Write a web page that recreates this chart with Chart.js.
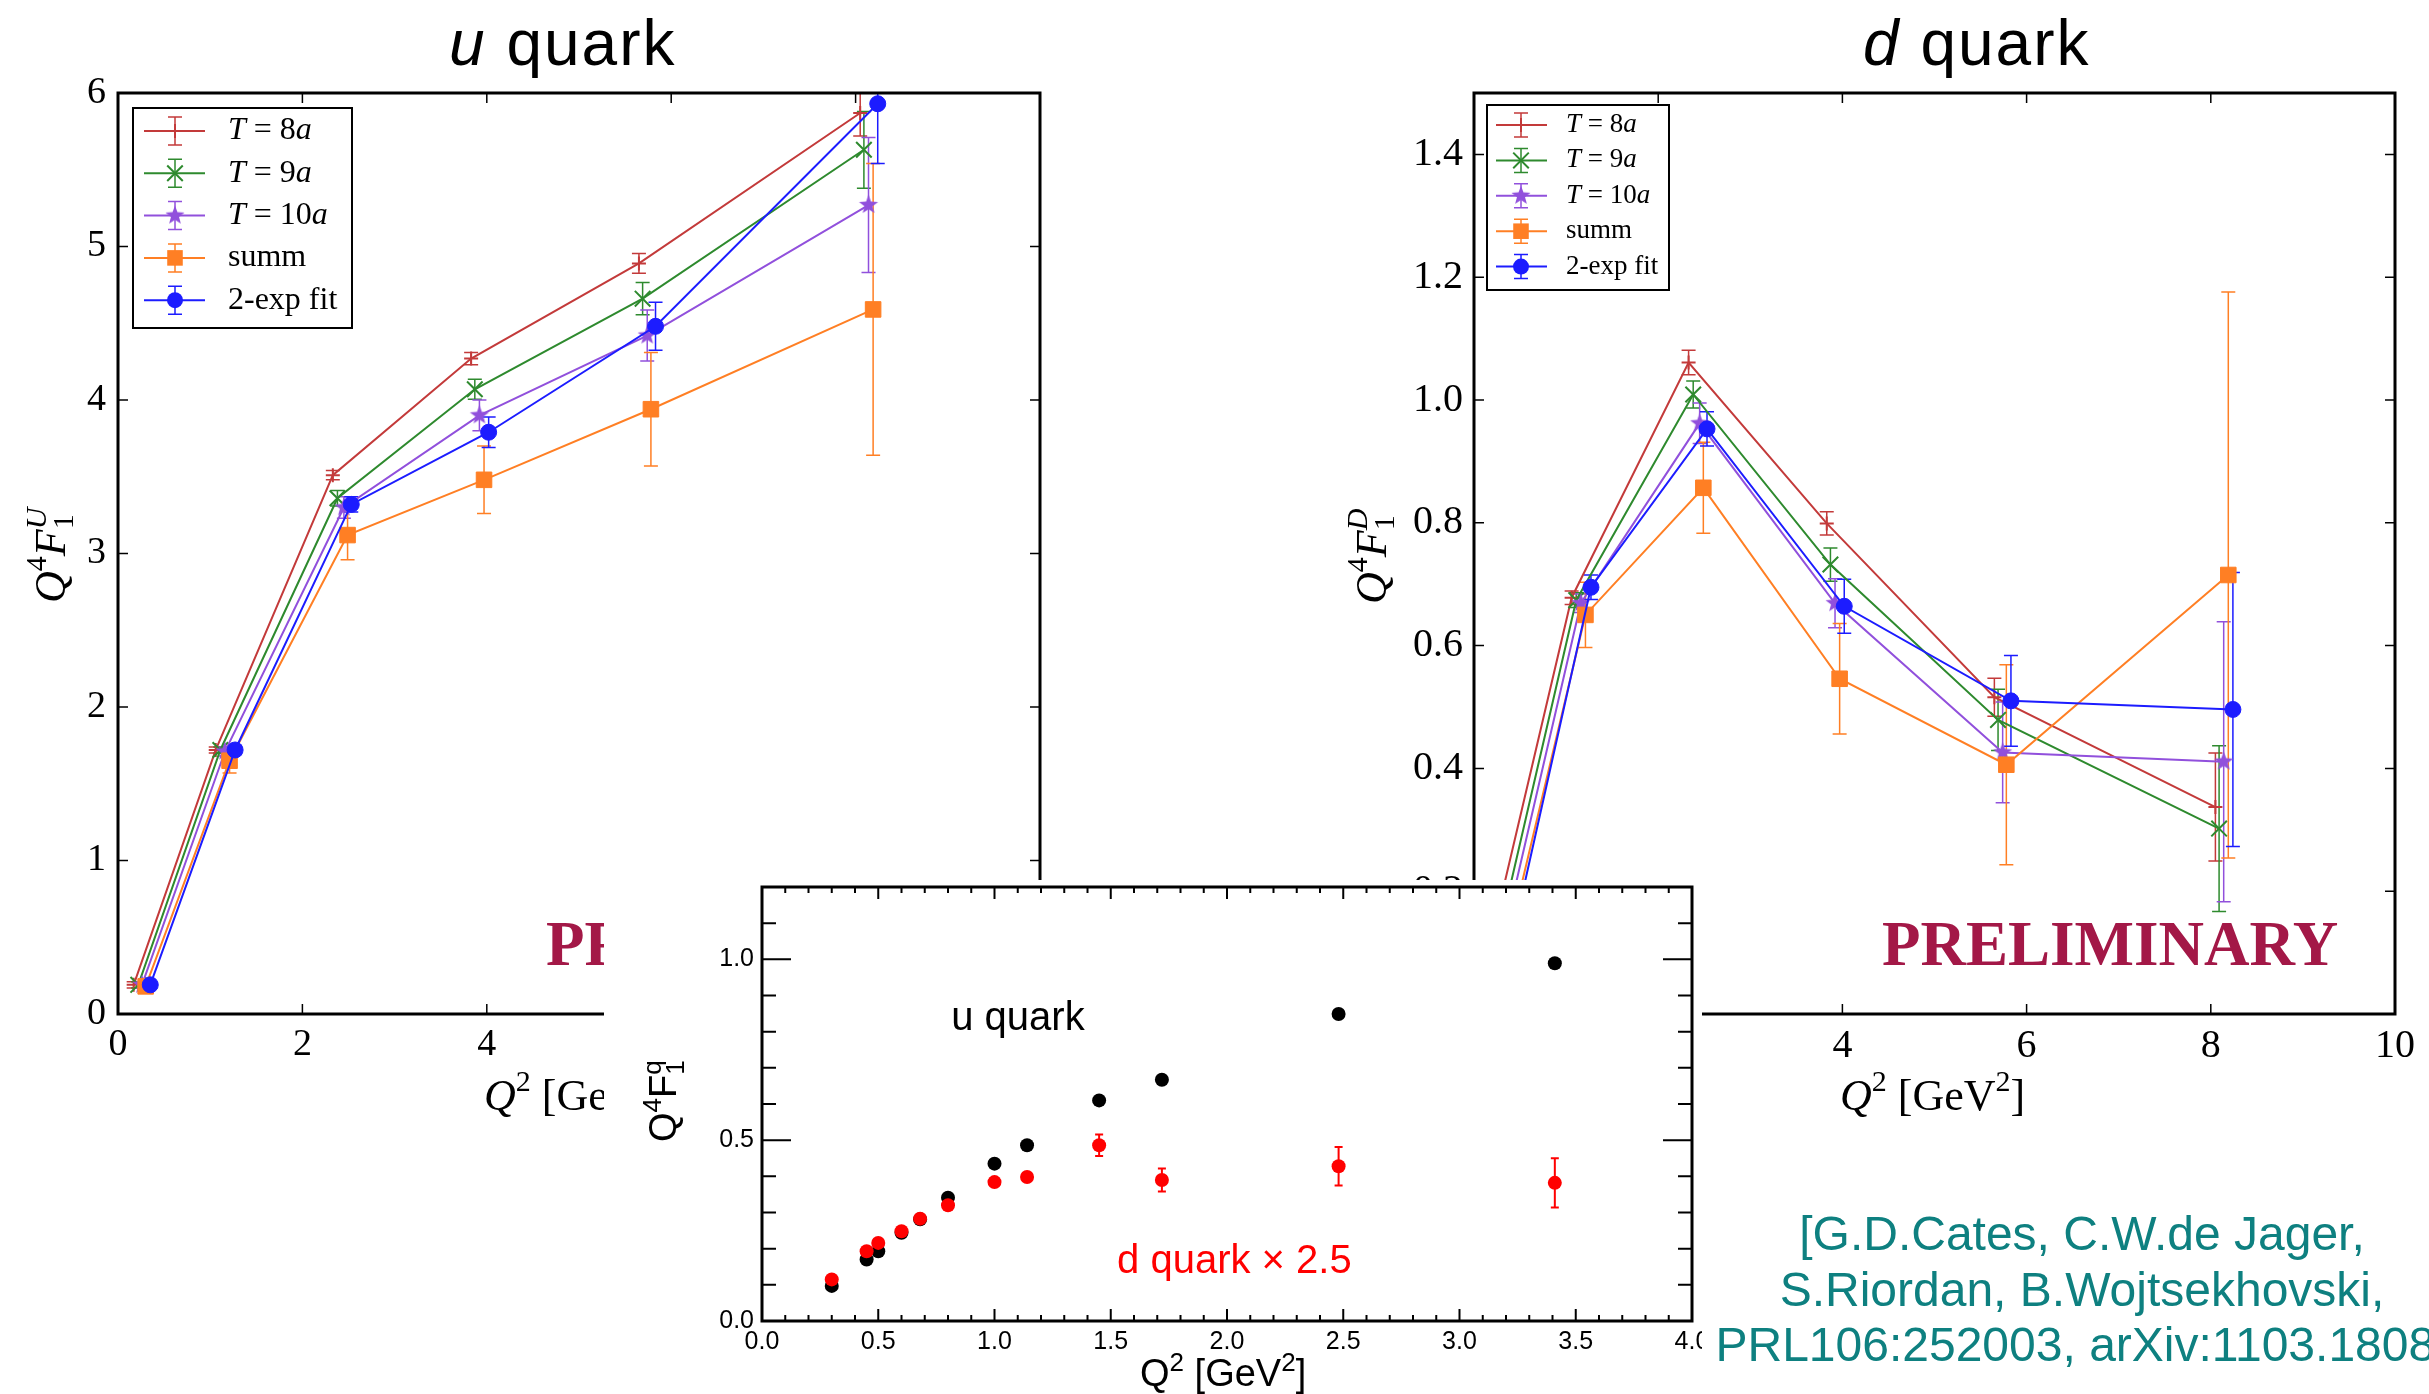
<!DOCTYPE html>
<html>
<head>
<meta charset="utf-8">
<title>Q4 F1 for u and d quarks</title>
<script src="https://cdn.jsdelivr.net/npm/chart.js@4.4.1/dist/chart.umd.min.js"></script>
<style>
  body { margin:0; width:2429px; height:1394px; overflow:hidden; background:#fff; position:relative; }
  canvas { position:absolute; }
  .title { position:absolute; top:11px; font:64px/64px 'Liberation Sans', Arial, sans-serif; letter-spacing:2px; white-space:nowrap; color:#000; }
  #cite { position:absolute; left:1682px; top:1206px; width:800px; text-align:center; font:48px/55.5px 'Liberation Sans', Arial, sans-serif; color:#0e8080; white-space:nowrap; }
</style>
</head>
<body>
<div class="title" style="left:449px"><i>u</i> quark</div>
<div class="title" style="left:1863px"><i>d</i> quark</div>
<canvas id="uChart" width="1120" height="1150" style="left:0;top:0"></canvas>
<canvas id="dChart" width="1099" height="1150" style="left:1330px;top:0"></canvas>
<canvas id="inset" width="1098" height="514" style="left:604px;top:880px;background:#fff"></canvas>
<div id="cite">[G.D.Cates, C.W.de Jager,<br>S.Riordan, B.Wojtsekhovski,<br>PRL106:252003, arXiv:1103.1808]</div>
<script>
// Q^2 [GeV^2] of each series (shifted a little per series, as in the plot)
var q2T8   = [0.17, 1.06, 2.33, 3.83, 5.65, 8.05];
var q2T9   = [0.22, 1.11, 2.38, 3.87, 5.69, 8.09];
var q2T10  = [0.26, 1.16, 2.45, 3.92, 5.74, 8.14];
var q2Summ = [0.30, 1.21, 2.49, 3.97, 5.78, 8.19];
var q2Fit  = [0.35, 1.27, 2.53, 4.02, 5.83, 8.24];

// u quark, Q^4 F1^U
var uT8      = [0.19, 1.72, 3.51, 4.27, 4.89, 5.87];
var uT8Err   = [0.02, 0.02, 0.03, 0.04, 0.065, 0.15];
var uT9      = [0.19, 1.72, 3.36, 4.07, 4.66, 5.63];
var uT9Err   = [0.02, 0.02, 0.05, 0.065, 0.105, 0.25];
var uT10     = [0.19, 1.71, 3.30, 3.90, 4.42, 5.27];
var uT10Err  = [0.02, 0.03, 0.07, 0.10, 0.166, 0.44];
var uSumm    = [0.18, 1.65, 3.12, 3.48, 3.94, 4.59];
var uSummErr = [0.03, 0.08, 0.16, 0.22, 0.37, 0.95];
var uFit     = [0.19, 1.72, 3.32, 3.79, 4.48, 5.93];
var uFitErr  = [0.02, 0.03, 0.05, 0.10, 0.156, 0.39];

// d quark, Q^4 F1^D
var dT8      = [0.11, 0.678, 1.061, 0.799, 0.516, 0.337];
var dT8Err   = [0.01, 0.011, 0.020, 0.019, 0.031, 0.088];
var dT9      = [0.096, 0.674, 1.009, 0.732, 0.479, 0.302];
var dT9Err   = [0.01, 0.012, 0.022, 0.027, 0.050, 0.135];
var dT10     = [0.086, 0.669, 0.962, 0.669, 0.426, 0.411];
var dT10Err  = [0.01, 0.015, 0.033, 0.040, 0.082, 0.228];
var dSumm    = [0.074, 0.650, 0.857, 0.546, 0.406, 0.715];
var dSummErr = [0.02, 0.053, 0.074, 0.090, 0.163, 0.461];
var dFit     = [0.079, 0.695, 0.953, 0.664, 0.510, 0.496];
var dFitErr  = [0.01, 0.020, 0.028, 0.044, 0.074, 0.223];

// inset: experimental flavour separation
var insetQ2     = [0.30, 0.45, 0.50, 0.60, 0.68, 0.80, 1.00, 1.14, 1.45, 1.72, 2.48, 3.41];
var insetU      = [0.097, 0.170, 0.193, 0.244, 0.281, 0.341, 0.435, 0.486, 0.610, 0.667, 0.849, 0.989];
var insetD25    = [0.115, 0.193, 0.216, 0.248, 0.283, 0.320, 0.384, 0.398, 0.486, 0.390, 0.428, 0.382];
var insetD25Err = [0, 0, 0, 0, 0, 0, 0, 0, 0.030, 0.032, 0.053, 0.068];

// tick labels
var q2Ticks     = [0, 2, 4, 6, 8, 10];
var uYTicks     = [0, 1, 2, 3, 4, 5, 6];
var dYTicks     = [0, 0.2, 0.4, 0.6, 0.8, 1.0, 1.2, 1.4];
var insetXTicks = [0, 0.5, 1.0, 1.5, 2.0, 2.5, 3.0, 3.5, 4.0];
var insetYTicks = [0, 0.5, 1.0];

var SERIF = "'Liberation Serif', 'Times New Roman', serif";
var SANS = "'Liberation Sans', Arial, sans-serif";
Chart.defaults.font.family = SERIF;
Chart.defaults.color = '#000';

var it = function(s){ return 'italic ' + s + 'px ' + SERIF; };
var rm = function(s){ return s + 'px ' + SERIF; };
var sf = function(s){ return s + 'px ' + SANS; };

function starMarker(color, r) {
  var c = document.createElement('canvas');
  var s = Math.ceil(r * 2 + 2);
  c.width = c.height = s;
  var g = c.getContext('2d');
  g.fillStyle = color;
  g.beginPath();
  for (var i = 0; i < 10; i++) {
    var a = -Math.PI / 2 + i * Math.PI / 5;
    var rr = i % 2 ? r * 0.42 : r;
    g.lineTo(s / 2 + rr * Math.cos(a), s / 2 + rr * Math.sin(a));
  }
  g.closePath();
  g.fill();
  return c;
}

var styles = {
  t8:   { color: '#c33a3a', marker: 'cross',    radius: 7 },
  t9:   { color: '#2e8a2e', marker: 'crossRot', radius: 11 },
  t10:  { color: '#9150dc', marker: starMarker('#9150dc', 10), radius: 9 },
  summ: { color: '#ff7f24', marker: 'rect',     radius: 11 },
  fit:  { color: '#1c1cff', marker: 'circle',   radius: 8 }
};

function pts(xs, ys) { return xs.map(function(x, i){ return { x: x, y: ys[i] }; }); }

function series(label, xs, ys, errs, st, order) {
  return {
    label: label, order: order,
    data: pts(xs, ys), errs: errs,
    borderColor: st.color, backgroundColor: st.color, borderWidth: 2,
    pointStyle: st.marker, pointRadius: st.radius, pointHoverRadius: st.radius,
    pointBorderWidth: (st.marker === 'cross' || st.marker === 'crossRot') ? 2 : 1,
    pointBackgroundColor: st.color, pointBorderColor: st.color,
    tension: 0, fill: false
  };
}

function steps(min, max, step) {
  var out = [], n = Math.round((max - min) / step);
  for (var k = 0; k <= n; k++) out.push(min + k * step);
  return out;
}

function drawRuns(ctx, runs, x, y) {
  var cx = x, lastX = x, lastW = 0;
  runs.forEach(function(r){
    ctx.font = r[1];
    var w = ctx.measureText(r[0]).width;
    var px = r[3] ? lastX : cx;
    ctx.fillText(r[0], px, y + r[2]);
    if (r[3]) cx = lastX + Math.max(lastW, w);
    else { lastX = px; lastW = w; cx = px + w; }
  });
}

function drawMarker(ctx, ds, x, y) {
  var s = ds.pointStyle, r = ds.pointRadius;
  ctx.save();
  ctx.fillStyle = ds.backgroundColor; ctx.strokeStyle = ds.borderColor; ctx.lineWidth = 2;
  ctx.beginPath();
  if (s === 'cross') { ctx.moveTo(x - r, y); ctx.lineTo(x + r, y); ctx.moveTo(x, y - r); ctx.lineTo(x, y + r); ctx.stroke(); }
  else if (s === 'crossRot') { var d = r * Math.SQRT1_2; ctx.moveTo(x - d, y - d); ctx.lineTo(x + d, y + d); ctx.moveTo(x - d, y + d); ctx.lineTo(x + d, y - d); ctx.stroke(); }
  else if (s === 'rect') { var h = r * Math.SQRT1_2; ctx.fillRect(x - h, y - h, 2 * h, 2 * h); }
  else if (s === 'circle') { ctx.arc(x, y, r, 0, Math.PI * 2); ctx.fill(); }
  else if (s && s.width) { ctx.drawImage(s, x - s.width / 2, y - s.height / 2); }
  ctx.restore();
}

function errorBars(o) {
  return {
    id: 'errorBars',
    beforeDatasetsDraw: function(chart) {
      var ctx = chart.ctx, a = chart.chartArea, xs = chart.scales.x, ys = chart.scales.y;
      ctx.save();
      ctx.beginPath(); ctx.rect(a.left, a.top, a.right - a.left, a.bottom - a.top); ctx.clip();
      chart.data.datasets.forEach(function(ds){
        if (!ds.errs) return;
        ctx.strokeStyle = ds.borderColor; ctx.lineWidth = o.width;
        ds.data.forEach(function(p, i){
          var e = ds.errs[i];
          if (!e) return;
          var px = xs.getPixelForValue(p.x), y1 = ys.getPixelForValue(p.y - e), y2 = ys.getPixelForValue(p.y + e);
          ctx.beginPath();
          ctx.moveTo(px, y1); ctx.lineTo(px, y2);
          ctx.moveTo(px - o.cap, y1); ctx.lineTo(px + o.cap, y1);
          ctx.moveTo(px - o.cap, y2); ctx.lineTo(px + o.cap, y2);
          ctx.stroke();
        });
      });
      ctx.restore();
    }
  };
}

function framePlugin(o) {
  return {
    id: 'frame',
    afterDraw: function(chart) {
      var ctx = chart.ctx, a = chart.chartArea, x = chart.scales.x, y = chart.scales.y;
      ctx.save();
      ctx.strokeStyle = '#000'; ctx.lineWidth = o.tickWidth;
      ctx.beginPath();
      var xv = function(vals, len){ vals.forEach(function(v){ var p = x.getPixelForValue(v); ctx.moveTo(p, a.bottom); ctx.lineTo(p, a.bottom - len); ctx.moveTo(p, a.top); ctx.lineTo(p, a.top + len); }); };
      var yv = function(vals, len){ vals.forEach(function(v){ var p = y.getPixelForValue(v); ctx.moveTo(a.left, p); ctx.lineTo(a.left + len, p); ctx.moveTo(a.right, p); ctx.lineTo(a.right - len, p); }); };
      xv(x.ticks.map(function(t){ return t.value; }), o.xMajor);
      yv(y.ticks.map(function(t){ return t.value; }), o.yMajor);
      if (o.minor) { xv(steps(x.min, x.max, o.minor), o.xMinor); yv(steps(y.min, y.max, o.minor), o.yMinor); }
      ctx.stroke();
      ctx.lineWidth = o.width;
      ctx.strokeRect(a.left, a.top, a.right - a.left, a.bottom - a.top);
      ctx.restore();
    }
  };
}

function boxLegend(o) {
  return {
    id: 'boxLegend',
    afterDatasetsDraw: function(chart) {
      var ctx = chart.ctx, a = chart.chartArea;
      var bx = a.left + o.dx, by = a.top + o.dy;
      ctx.save();
      ctx.fillStyle = '#fff'; ctx.fillRect(bx, by, o.w, o.h);
      ctx.lineWidth = 2; ctx.strokeStyle = '#000'; ctx.strokeRect(bx, by, o.w, o.h);
      chart.data.datasets.forEach(function(ds, i){
        var cy = by + o.first + i * o.gap, mx = bx + o.mx;
        ctx.strokeStyle = ds.borderColor;
        ctx.lineWidth = 2;
        ctx.beginPath(); ctx.moveTo(bx + o.lx0, cy); ctx.lineTo(bx + o.lx1, cy); ctx.stroke();
        ctx.lineWidth = 1.5;
        ctx.beginPath();
        ctx.moveTo(mx, cy - o.eh); ctx.lineTo(mx, cy + o.eh);
        ctx.moveTo(mx - 7, cy - o.eh); ctx.lineTo(mx + 7, cy - o.eh);
        ctx.moveTo(mx - 7, cy + o.eh); ctx.lineTo(mx + 7, cy + o.eh);
        ctx.stroke();
        drawMarker(ctx, ds, mx, cy);
        ctx.fillStyle = '#000'; ctx.textBaseline = 'middle';
        var m = ds.label.match(/^T = (\d+)a$/);
        var runs = m ? [['T', it(o.font), 0], [' = ' + m[1], rm(o.font), 0], ['a', it(o.font), 0]] : [[ds.label, rm(o.font), 0]];
        drawRuns(ctx, runs, bx + o.tx, cy);
      });
      ctx.restore();
    }
  };
}

function axisLabels(o) {
  return {
    id: 'axisLabels',
    afterDraw: function(chart) {
      var ctx = chart.ctx, a = chart.chartArea;
      ctx.save();
      ctx.textBaseline = 'alphabetic'; ctx.textAlign = 'left';
      if (o.stamp) {
        ctx.font = 'bold 63px ' + SERIF; ctx.fillStyle = '#a31847';
        ctx.fillText('PRELIMINARY', a.left + o.stamp[0], a.bottom + o.stamp[1]);
      }
      (o.notes || []).forEach(function(n){
        ctx.font = n.font; ctx.fillStyle = n.color;
        ctx.fillText(n.text, chart.scales.x.getPixelForValue(n.x), chart.scales.y.getPixelForValue(n.y));
      });
      ctx.fillStyle = '#000';
      drawRuns(ctx, o.xRuns, a.left + o.xAt[0], a.bottom + o.xAt[1]);
      ctx.translate(a.left + o.yAt[0], a.top + o.yAt[1]);
      ctx.rotate(-Math.PI / 2);
      drawRuns(ctx, o.yRuns, 0, 0);
      ctx.restore();
    }
  };
}

function setTicks(arr) { return function(s){ s.ticks = arr.map(function(v){ return { value: v }; }); }; }

var q2Runs = [['Q', it(44), 0], ['2', rm(30), -19], [' [GeV', rm(44), 0], ['2', rm(30), -19], [']', rm(44), 0]];
function f1Runs(q) { return [['Q', it(44), 0], ['4', rm(30), -19], ['F', it(44), 0], ['1', rm(30), 8], [q, it(30), -19, true]]; }

function quarkChart(id, c) {
  return new Chart(document.getElementById(id), {
    type: 'line',
    data: { datasets: [
      series('T = 8a',    q2T8,   c.y[0], c.e[0], styles.t8,   4),
      series('T = 9a',    q2T9,   c.y[1], c.e[1], styles.t9,   3),
      series('T = 10a',   q2T10,  c.y[2], c.e[2], styles.t10,  2),
      series('summ',      q2Summ, c.y[3], c.e[3], styles.summ, 1),
      series('2-exp fit', q2Fit,  c.y[4], c.e[4], styles.fit,  0)
    ]},
    options: {
      responsive: false, animation: false, devicePixelRatio: 1,
      layout: { padding: { top: 93, right: c.padRight, left: 0, bottom: 0 } },
      plugins: { legend: { display: false }, tooltip: { enabled: false } },
      scales: {
        x: {
          type: 'linear', min: 0, max: 10,
          grid: { display: false, drawTicks: false }, border: { display: false },
          afterBuildTicks: setTicks(q2Ticks),
          afterFit: function(s){ s.height = 136; s.paddingLeft = 0; s.paddingRight = 0; },
          ticks: { font: { size: c.tickSize }, padding: 8, maxRotation: 0, autoSkip: false, callback: function(v){ return String(v); } }
        },
        y: {
          type: 'linear', min: 0, max: c.ymax,
          grid: { display: false, drawTicks: false }, border: { display: false },
          afterBuildTicks: setTicks(c.yTicks),
          afterFit: function(s){ s.width = c.yWidth; s.paddingTop = 0; s.paddingBottom = 0; },
          ticks: { font: { size: c.tickSize }, padding: c.yPad, autoSkip: false, callback: c.fmt }
        }
      }
    },
    plugins: [
      errorBars({ cap: 7, width: 1.5 }),
      boxLegend(c.legend),
      framePlugin({ width: 3, tickWidth: 1.5, xMajor: 10, yMajor: 10 }),
      axisLabels({ xRuns: q2Runs, xAt: [366, 96], yRuns: f1Runs(c.q), yAt: c.yAt, stamp: c.stamp })
    ]
  });
}

quarkChart('uChart', {
  y: [uT8, uT9, uT10, uSumm, uFit], e: [uT8Err, uT9Err, uT10Err, uSummErr, uFitErr],
  ymax: 6, yTicks: uYTicks, yWidth: 118, yPad: 12, padRight: 80, tickSize: 38,
  fmt: function(v){ return String(v); }, q: 'U', yAt: [-53, 510], stamp: [428, -49],
  legend: { dx: 15, dy: 15, w: 219, h: 220, first: 23, gap: 42.3, lx0: 11, lx1: 72, mx: 42, tx: 95, font: 32, eh: 14 }
});

quarkChart('dChart', {
  y: [dT8, dT9, dT10, dSumm, dFit], e: [dT8Err, dT9Err, dT10Err, dSummErr, dFitErr],
  ymax: 1.5, yTicks: dYTicks, yWidth: 144, yPad: 11, padRight: 34, tickSize: 40,
  fmt: function(v){ return v.toFixed(1); }, q: 'D', yAt: [-88, 511], stamp: [408, -49],
  legend: { dx: 13, dy: 12, w: 182, h: 185, first: 20, gap: 35.4, lx0: 9, lx1: 60, mx: 34, tx: 79, font: 27, eh: 12 }
});

new Chart(document.getElementById('inset'), {
  type: 'scatter',
  data: { datasets: [
    { label: 'd quark × 2.5', data: pts(insetQ2, insetD25), errs: insetD25Err, backgroundColor: '#ff0000', borderColor: '#ff0000', pointRadius: 7, pointBorderWidth: 0, order: 0 },
    { label: 'u quark', data: pts(insetQ2, insetU), backgroundColor: '#000', borderColor: '#000', pointRadius: 7, pointBorderWidth: 0, order: 1 }
  ]},
  options: {
    responsive: false, animation: false, devicePixelRatio: 1,
    layout: { padding: { top: 6, right: 10, left: 0, bottom: 0 } },
    plugins: { legend: { display: false }, tooltip: { enabled: false } },
    scales: {
      x: {
        type: 'linear', min: 0, max: 4,
        grid: { display: false, drawTicks: false }, border: { display: false },
        afterBuildTicks: setTicks(insetXTicks),
        afterFit: function(s){ s.height = 73; s.paddingLeft = 0; s.paddingRight = 0; },
        ticks: { font: { family: SANS, size: 25 }, padding: 6, maxRotation: 0, autoSkip: false, callback: function(v){ return v.toFixed(1); } }
      },
      y: {
        type: 'linear', min: 0, max: 1.2,
        grid: { display: false, drawTicks: false }, border: { display: false },
        afterBuildTicks: setTicks(insetYTicks),
        afterFit: function(s){ s.width = 158; s.paddingTop = 0; s.paddingBottom = 0; },
        ticks: { font: { family: SANS, size: 25 }, padding: 8, autoSkip: false, callback: function(v){ return v.toFixed(1); } }
      }
    }
  },
  plugins: [
    errorBars({ cap: 4, width: 2 }),
    framePlugin({ width: 3, tickWidth: 2, xMajor: 12, yMajor: 29, minor: 0.1, xMinor: 6, yMinor: 14 }),
    axisLabels({
      xRuns: [['Q', sf(38), 0], ['2', sf(26), -15], [' [GeV', sf(38), 0], ['2', sf(26), -15], [']', sf(38), 0]], xAt: [378, 65],
      yRuns: [['Q', sf(38), 0], ['4', sf(26), -15], ['F', sf(38), 0], ['1', sf(26), 8], ['q', sf(26), -15, true]], yAt: [-86, 255],
      notes: [
        { text: 'u quark', x: 0.814, y: 0.805, font: sf(40), color: '#000' },
        { text: 'd quark × 2.5', x: 1.527, y: 0.132, font: sf(40), color: '#ff0000' }
      ]
    })
  ]
});
</script>
</body>
</html>
